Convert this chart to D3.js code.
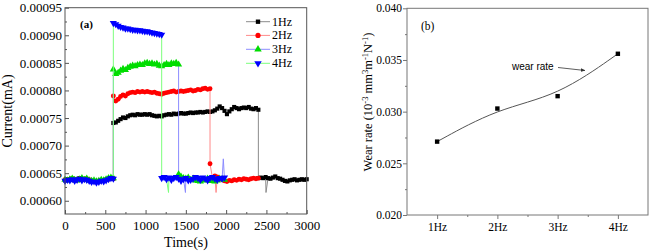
<html>
<head>
<meta charset="utf-8">
<script src="https://cdn.jsdelivr.net/npm/d3@7"></script>
<style>
body {
	margin: 0;
	background: #fff;
}
text {
	font-family: "Liberation Serif", "Times New Roman", serif;
}
.axis path {
	display: none;
}
</style>
</head>
<body>
<svg id="chart" width="653" height="252"></svg>
<script>

// ---------- panel (a): current vs time, values in 1e-6 mA, one sample every 30 s
var unit = 1e-6;
var dt = 30;
var onTime = 600;
var names = ["1Hz", "2Hz", "3Hz", "4Hz"];
var offTime = [2400, 1800, 1410, 1200];

var hz1_pre = [637, 639, 638, 640, 637, 639, 641, 638, 640, 639, 637, 635, 636, 634, 635, 637, 636, 638, 640, 641, 640];
var hz1_on = [741, 742, 745, 748, 751, 750, 753, 755, 756, 755, 757, 756, 756, 757, 756, 757, 755, 754, 753, 754,
              753, 755, 756, 757, 756, 758, 757, 758, 759, 758, 758, 759, 760, 759, 760, 760, 761, 760, 761, 762,
              761, 762, 764, 767, 771, 768, 763, 757, 762, 766, 770, 768, 766, 768, 769, 768, 770, 767, 766, 768, 765];
var hz1_post = [641, 642, 641, 643, 641, 640, 642, 644, 641, 640, 638, 636, 635, 637, 638, 639, 637, 638, 639, 638, 639];
var hz1_spikes = [[2495, 615]];

var hz2_pre = [638, 637, 639, 640, 638, 637, 640, 639, 638, 640, 638, 636, 635, 634, 636, 637, 636, 638, 639, 641, 640];
var hz2_on = [790, 781, 784, 789, 792, 790, 794, 796, 797, 796, 798, 797, 798, 797, 798, 797, 796, 797, 795, 794,
              793, 795, 796, 797, 798, 799, 797, 798, 799, 798, 799, 800, 801, 799, 800, 802, 801, 803, 804, 802, 803];
var hz2_post = [667, 642, 645, 643, 641, 638, 636, 635, 637, 636, 638, 637, 639, 638, 640, 639, 638, 640, 641, 640, 641];
var hz2_spikes = [[1875, 615]];

var hz3_pre = [638, 637, 639, 640, 638, 637, 639, 641, 638, 640, 637, 636, 637, 635, 636, 638, 637, 639, 641, 642, 641];
var hz3_on = [838, 830, 832, 836, 839, 837, 841, 843, 845, 844, 846, 847, 846, 849, 850, 848, 849, 847, 848, 845,
              844, 846, 848, 846, 849, 848, 850, 847];
var hz3_post = [648, 644, 641, 640, 642, 638, 640, 637, 636, 635, 638, 637, 640, 636, 638, 635, 637, 640, 639, 638];
var hz3_spikes = [[1495, 615], [1965, 676]];

var hz4_pre = [636, 638, 637, 639, 636, 638, 640, 637, 639, 638, 636, 634, 635, 633, 634, 636, 635, 637, 639, 641, 640];
var hz4_on = [922, 920, 917, 915, 914, 912, 912, 911, 910, 910, 909, 909, 908, 907, 907, 906, 905, 904, 903, 902, 901];
var hz4_post = [641, 643, 639, 642, 638, 641, 643, 640, 636, 639, 641, 637, 638, 640, 643, 641, 638, 642, 640, 637,
                641, 643, 640, 638, 641, 640, 642];
var hz4_spikes = [[1285, 615]];

var xTicksA = [0, 500, 1000, 1500, 2000, 2500, 3000];
var xMinorA = [250, 750, 1250, 1750, 2250, 2750];
var yTicksA = [0.00060, 0.00065, 0.00070, 0.00075, 0.00080, 0.00085, 0.00090, 0.00095];
var yMinorA = [0.000625, 0.000675, 0.000725, 0.000775, 0.000825, 0.000875, 0.000925];

// ---------- panel (b): wear rate
var freqs = ["1Hz", "2Hz", "3Hz", "4Hz"];
var wear = [0.0271, 0.0303, 0.0315, 0.0356];
var yTicksB = [0.020, 0.025, 0.030, 0.035, 0.040];
var yMinorB = [0.0225, 0.0275, 0.0325, 0.0375];

var svg = d3.select("#chart");

// styles of the four traces: line colour, marker colour, marker shape
var lineColor = ["#8c8c8c", "#ff8a8a", "#8c8cff", "#7cff7c"];
var markColor = ["#000000", "#ff0000", "#00dd00", "#0000ff"];
var markShape = [d3.symbolSquare, d3.symbolCircle, d3.symbolTriangle, d3.symbolTriangle];
var markSize = [17, 19, 22, 22];
var markRot = [0, 0, 0, 180];

var series = [
    {pre: hz1_pre, on: hz1_on, post: hz1_post, spikes: hz1_spikes},
    {pre: hz2_pre, on: hz2_on, post: hz2_post, spikes: hz2_spikes},
    {pre: hz3_pre, on: hz3_on, post: hz3_post, spikes: hz3_spikes},
    {pre: hz4_pre, on: hz4_on, post: hz4_post, spikes: hz4_spikes}
];

var xA = d3.scaleLinear().domain([0, 3000]).range([65, 306.7]);
var yA = d3.scaleLinear().domain([0.000576, 0.00095]).range([214, 7.7]);

var xB = d3.scaleLinear().domain([0.5, 4.5]).range([407, 648]);
var yB = d3.scaleLinear().domain([0.020, 0.040]).range([215, 8.3]);

drawPanelA();
drawPanelB();

function buildPoints(s, k) {
    var pts = [];
    s.pre.forEach(function(v, i) { pts.push({t: i * dt, v: v * unit}); });
    s.on.forEach(function(v, i) { pts.push({t: onTime + i * dt, v: v * unit}); });
    s.post.forEach(function(v, i) { pts.push({t: offTime[k] + i * dt, v: v * unit}); });
    return pts;
}

function drawPanelA() {
    var frameColor = "#555";
    // ticks inward
    svg.append("g").attr("class", "axis")
        .attr("transform", "translate(0,214)")
        .call(d3.axisBottom(xA).tickValues(xTicksA).tickSize(-4).tickPadding(7).tickFormat(d3.format("d")));
    svg.append("g").attr("class", "axis")
        .attr("transform", "translate(0,214)")
        .call(d3.axisBottom(xA).tickValues(xMinorA).tickSize(-2).tickFormat(""));
    svg.append("g").attr("class", "axis")
        .attr("transform", "translate(65,0)")
        .call(d3.axisLeft(yA).tickValues(yTicksA).tickSize(-4).tickPadding(3).tickFormat(d3.format(".5f")));
    svg.append("g").attr("class", "axis")
        .attr("transform", "translate(65,0)")
        .call(d3.axisLeft(yA).tickValues(yMinorA).tickSize(-2).tickFormat(""));
    svg.selectAll(".axis line").attr("stroke", frameColor);
    svg.selectAll(".axis text").attr("font-size", 13).attr("fill", "#000")
        .style("font-family", "'Liberation Serif', serif");

    var line = d3.line().x(function(d) { return xA(d.t); }).y(function(d) { return yA(d.v); });
    for (var k = 0; k < series.length; k++) {
        var pts = buildPoints(series[k], k);
        var linePts = pts.concat(series[k].spikes.map(function(p) { return {t: p[0], v: p[1] * unit}; }));
        linePts.sort(function(a, b) { return a.t - b.t || 0; });
        svg.append("path")
            .datum(linePts)
            .attr("d", line)
            .attr("fill", "none")
            .attr("stroke", lineColor[k])
            .attr("stroke-width", 1);
        var sym = d3.symbol().type(markShape[k]).size(markSize[k]);
        svg.append("g").selectAll("path")
            .data(pts)
            .enter().append("path")
            .attr("d", sym)
            .attr("transform", function(d) { return "translate(" + xA(d.t) + "," + yA(d.v) + ") rotate(" + markRot[k] + ")"; })
            .attr("fill", markColor[k]);
    }

    svg.append("rect")
        .attr("x", 65).attr("y", 7.7)
        .attr("width", 241.7).attr("height", 206.3)
        .attr("fill", "none").attr("stroke", frameColor).attr("stroke-width", 1);

    // legend
    var rows = [21.7, 35.4, 49.3, 63.3];
    for (var i = 0; i < names.length; i++) {
        svg.append("line")
            .attr("x1", 246).attr("x2", 270)
            .attr("y1", rows[i]).attr("y2", rows[i])
            .attr("stroke", lineColor[i]);
        svg.append("path")
            .attr("d", d3.symbol().type(markShape[i]).size(markSize[i] + 2))
            .attr("transform", "translate(258," + rows[i] + ") rotate(" + markRot[i] + ")")
            .attr("fill", markColor[i]);
        svg.append("text")
            .attr("x", 272).attr("y", rows[i] + 4)
            .attr("font-size", 12)
            .text(names[i]);
    }

    svg.append("text").attr("x", 80).attr("y", 28)
        .attr("font-size", 11).attr("font-weight", "bold").text("(a)");
    svg.append("text").attr("x", 186).attr("y", 247)
        .attr("text-anchor", "middle").attr("font-size", 14).text("Time(s)");
    svg.append("text")
        .attr("transform", "translate(12,111) rotate(-90)")
        .attr("text-anchor", "middle").attr("font-size", 14).text("Current(mA)");
}

function drawPanelB() {
    var frameColor = "#777";
    svg.append("g").attr("class", "axis axisB")
        .attr("transform", "translate(0,215)")
        .call(d3.axisBottom(xB).tickValues([1, 2, 3, 4]).tickSize(4).tickPadding(4)
              .tickFormat(function(d) { return freqs[d - 1]; }));
    svg.append("g").attr("class", "axis axisB")
        .attr("transform", "translate(0,215)")
        .call(d3.axisBottom(xB).tickValues([1.5, 2.5, 3.5]).tickSize(2).tickFormat(""));
    svg.append("g").attr("class", "axis axisB")
        .attr("transform", "translate(407,0)")
        .call(d3.axisLeft(yB).tickValues(yTicksB).tickSize(4).tickPadding(1).tickFormat(d3.format(".3f")));
    svg.append("g").attr("class", "axis axisB")
        .attr("transform", "translate(407,0)")
        .call(d3.axisLeft(yB).tickValues(yMinorB).tickSize(2).tickFormat(""));
    svg.selectAll(".axisB line").attr("stroke", frameColor);
    svg.selectAll(".axisB text").attr("font-size", 11.5).attr("fill", "#000")
        .style("font-family", "'Liberation Serif', serif");

    svg.append("rect")
        .attr("x", 407).attr("y", 8.3)
        .attr("width", 241).attr("height", 206.7)
        .attr("fill", "none").attr("stroke", frameColor).attr("stroke-width", 1);

    var curve = d3.line()
        .x(function(d, i) { return xB(i + 1); })
        .y(function(d) { return yB(d); })
        .curve(d3.curveBasis);
    svg.append("path")
        .datum(wear)
        .attr("d", curve)
        .attr("fill", "none")
        .attr("stroke", "#555")
        .attr("stroke-width", 1);
    svg.append("g").selectAll("rect")
        .data(wear)
        .enter().append("rect")
        .attr("x", function(d, i) { return xB(i + 1) - 2.2; })
        .attr("y", function(d) { return yB(d) - 2.2; })
        .attr("width", 4.4).attr("height", 4.4)
        .attr("fill", "#000");

    // annotation
    svg.append("defs").append("marker")
        .attr("id", "arrow").attr("viewBox", "0 0 10 10")
        .attr("refX", 9).attr("refY", 5)
        .attr("markerWidth", 6).attr("markerHeight", 6)
        .attr("orient", "auto")
        .append("path").attr("d", "M0,1 L10,5 L0,9 z").attr("fill", "#333");
    svg.append("line")
        .attr("x1", 558).attr("y1", 67.5).attr("x2", 585).attr("y2", 70.5)
        .attr("stroke", "#333").attr("stroke-width", 0.8)
        .attr("marker-end", "url(#arrow)");
    svg.append("text").attr("x", 512).attr("y", 69.5)
        .attr("font-size", 10)
        .style("font-family", "'Liberation Sans', Arial, sans-serif")
        .text("wear rate");

    svg.append("text").attr("x", 421).attr("y", 30)
        .attr("font-size", 11.5).text("(b)");

    var title = svg.append("text")
        .attr("transform", "translate(372,102) rotate(-90)")
        .attr("text-anchor", "middle").attr("font-size", 12.5);
    title.append("tspan").text("Wear rate (10");
    title.append("tspan").attr("dy", -4.5).attr("font-size", 8.5).text("-3");
    title.append("tspan").attr("dy", 4.5).text(" mm");
    title.append("tspan").attr("dy", -4.5).attr("font-size", 8.5).text("3");
    title.append("tspan").attr("dy", 4.5).text("m");
    title.append("tspan").attr("dy", -4.5).attr("font-size", 8.5).text("-1");
    title.append("tspan").attr("dy", 4.5).text("N");
    title.append("tspan").attr("dy", -4.5).attr("font-size", 8.5).text("-1");
    title.append("tspan").attr("dy", 4.5).text(")");
}
</script>
</body>
</html>
